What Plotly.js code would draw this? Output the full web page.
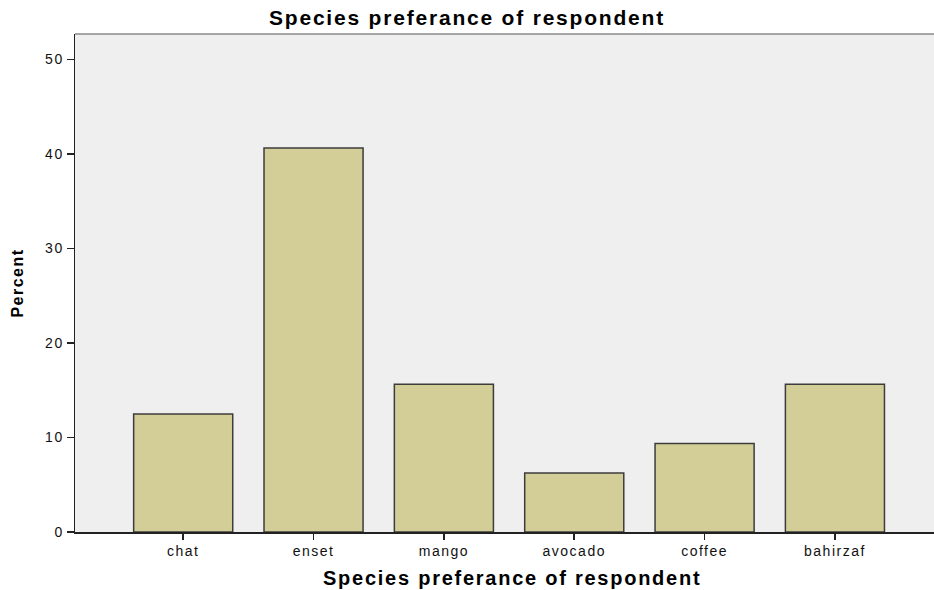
<!DOCTYPE html>
<html>
<head>
<meta charset="utf-8">
<script src="https://cdn.plot.ly/plotly-3.0.1.min.js"></script>
<style>
html,body{margin:0;padding:0;background:#fff;}
#chart{width:934px;height:590px;}
.gtitle{letter-spacing:1.8px;}
.annotation-text{letter-spacing:1.75px;}
.g-ytitle text{letter-spacing:1.5px;}
.xtick text,.ytick text{letter-spacing:1.5px;}
</style>
</head>
<body>
<div id="chart"></div>
<script>
const categories = ["chat", "enset", "mango", "avocado", "coffee", "bahirzaf"];
const percentValues = [12.5, 40.625, 15.625, 6.25, 9.375, 15.625];
const yTickValues = [0, 10, 20, 30, 40, 50];
const chartTitle = "Species preferance of respondent";
const xTitle = "Species preferance of respondent";
const yTitle = "Percent";

const trace = {
  type: "bar",
  x: categories.map((c, i) => i),
  y: percentValues,
  marker: { color: "#d3ce98", line: { color: "#3c3c3c", width: 1.5 } },
  hoverinfo: "none"
};

const boldFont = "Liberation Sans, Arial, sans-serif";

const layout = {
  width: 934, height: 590,
  margin: { l: 75, r: 0, t: 34, b: 58 },
  paper_bgcolor: "#ffffff",
  plot_bgcolor: "#efefef",
  bargap: 0.24,
  showlegend: false,
  font: { family: "Liberation Sans, Arial, sans-serif", color: "#111" },
  title: {
    text: chartTitle,
    font: { family: boldFont, size: 21, color: "#000", weight: "bold" },
    x: 0.5, xref: "container", xanchor: "center",
    y: 1 - 18 / 590, yref: "container", yanchor: "middle"
  },
  xaxis: {
    range: [-0.83, 5.76],
    tickmode: "array",
    tickvals: categories.map((c, i) => i),
    ticktext: categories,
    ticks: "outside", ticklen: 6, tickwidth: 1.5, tickcolor: "#222",
    showline: true, linecolor: "#222", linewidth: 1.5,
    showgrid: false, zeroline: false,
    tickfont: { size: 14, color: "#111" }
  },
  yaxis: {
    range: [0, 52.7],
    tickmode: "array",
    tickvals: yTickValues,
    ticks: "outside", ticklen: 7, tickwidth: 1.5, tickcolor: "#222",
    showline: true, linecolor: "#222", linewidth: 1.5,
    showgrid: false, zeroline: false,
    tickfont: { size: 14, color: "#111" },
    title: {
      text: yTitle,
      font: { family: boldFont, size: 16, color: "#000", weight: "bold" },
      standoff: 17
    }
  },
  annotations: [{
    text: xTitle,
    xref: "paper", yref: "paper",
    x: 0.5, y: 0, xanchor: "center", yanchor: "middle",
    xshift: 7, yshift: -46,
    showarrow: false,
    font: { family: boldFont, size: 20, color: "#000", weight: "bold" }
  }],
  shapes: [{
    type: "line", xref: "paper", yref: "paper",
    x0: 0, x1: 1, y0: 1, y1: 1,
    line: { color: "#8a8a8a", width: 1.5 }
  }]
};

Plotly.newPlot("chart", [trace], layout, { displayModeBar: false, staticPlot: true });
</script>
</body>
</html>
